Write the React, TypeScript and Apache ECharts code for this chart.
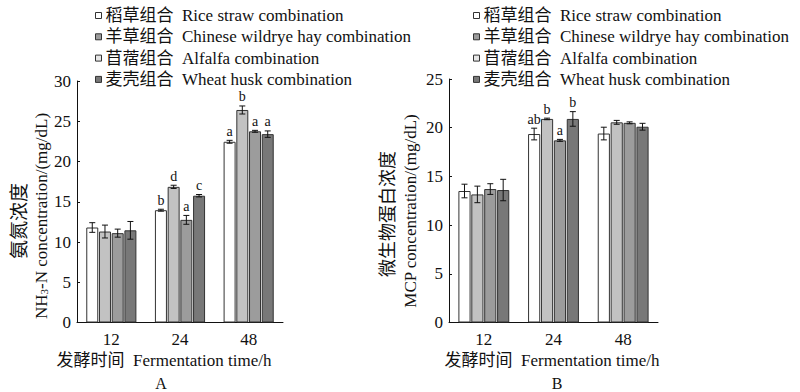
import React, { useEffect, useRef } from "react";
import * as echarts from "echarts";

const categories = ["12", "24", "48"];
const seriesNames = ["稻草组合", "羊草组合", "苜蓿组合", "麦壳组合"];
const seriesNamesEn = [
  "Rice straw combination",
  "Chinese wildrye hay combination",
  "Alfalfa combination",
  "Wheat husk combination",
];
const barColors = ["#ffffff", "#c2c2c2", "#9c9c9c", "#787878"];
const legendIconColors = ["#ffffff", "#9c9c9c", "#e6e6e6", "#787878"];

// Panel A: NH3-N concentration (mg/dL)
const nh3Rice = [11.8, 13.95, 22.45];
const nh3Wildrye = [11.3, 16.85, 26.4];
const nh3Alfalfa = [11.1, 12.75, 23.75];
const nh3Wheat = [11.45, 15.75, 23.4];
const nh3RiceErr = [0.6, 0.12, 0.18];
const nh3WildryeErr = [0.8, 0.2, 0.5];
const nh3AlfalfaErr = [0.5, 0.55, 0.12];
const nh3WheatErr = [1.1, 0.15, 0.4];
const nh3RiceSig = ["", "b", "a"];
const nh3WildryeSig = ["", "d", "b"];
const nh3AlfalfaSig = ["", "a", "a"];
const nh3WheatSig = ["", "c", "a"];

// Panel B: MCP concentration (mg/dL)
const mcpRice = [13.5, 19.35, 19.4];
const mcpWildrye = [13.15, 20.9, 20.55];
const mcpAlfalfa = [13.7, 18.7, 20.5];
const mcpWheat = [13.6, 20.9, 20.1];
const mcpRiceErr = [0.7, 0.6, 0.65];
const mcpWildryeErr = [0.85, 0.08, 0.2];
const mcpAlfalfaErr = [0.55, 0.1, 0.1];
const mcpWheatErr = [1.1, 0.75, 0.35];
const mcpRiceSig = ["", "ab", ""];
const mcpWildryeSig = ["", "b", ""];
const mcpAlfalfaSig = ["", "a", ""];
const mcpWheatSig = ["", "b", ""];

const yTicksA = { min: 0, max: 30, interval: 5 };
const yTicksB = { min: 0, max: 25, interval: 5 };

const FONT = "'Liberation Serif', 'Noto Sans CJK SC', serif";
const CAT_GAP = 0.27;
const BAR_GAP = 0.06;

export default function App() {
  const ref = useRef<HTMLDivElement>(null);

  useEffect(() => {
    if (!ref.current) return;
    const chart = echarts.init(ref.current, null, { renderer: "svg" });

    const panels = [
      {
        values: [nh3Rice, nh3Wildrye, nh3Alfalfa, nh3Wheat],
        errs: [nh3RiceErr, nh3WildryeErr, nh3AlfalfaErr, nh3WheatErr],
        sigs: [nh3RiceSig, nh3WildryeSig, nh3AlfalfaSig, nh3WheatSig],
      },
      {
        values: [mcpRice, mcpWildrye, mcpAlfalfa, mcpWheat],
        errs: [mcpRiceErr, mcpWildryeErr, mcpAlfalfaErr, mcpWheatErr],
        sigs: [mcpRiceSig, mcpWildryeSig, mcpAlfalfaSig, mcpWheatSig],
      },
    ];

    const series: any[] = [];
    panels.forEach((p, pi) => {
      p.values.forEach((vals, si) => {
        series.push({
          type: "bar",
          name: seriesNames[si],
          xAxisIndex: pi,
          yAxisIndex: pi,
          data: vals,
          barCategoryGap: CAT_GAP * 100 + "%",
          barGap: BAR_GAP * 100 + "%",
          itemStyle: { color: barColors[si], borderColor: "#333", borderWidth: 1 },
          emphasis: { disabled: true },
        });
      });
      p.values.forEach((vals, si) => {
        const errs = p.errs[si];
        const sigs = p.sigs[si];
        series.push({
          type: "custom",
          xAxisIndex: pi,
          yAxisIndex: pi,
          z: 5,
          data: vals.map((v, ci) => [ci, v, errs[ci]]),
          renderItem: (params: any, api: any) => {
            const ci = api.value(0);
            const v = api.value(1);
            const e = api.value(2);
            const band = api.size([1, 0])[0];
            const gw = band * (1 - CAT_GAP);
            const bw = gw / (4 + 3 * BAR_GAP);
            const off = -gw / 2 + si * bw * (1 + BAR_GAP) + bw / 2;
            const top = api.coord([ci, v + e]);
            const bot = api.coord([ci, v - e]);
            const x = top[0] + off;
            const cap = 3;
            const st = { stroke: "#111", lineWidth: 1 };
            const children: any[] = [
              { type: "line", shape: { x1: x, y1: top[1], x2: x, y2: bot[1] }, style: st },
              { type: "line", shape: { x1: x - cap, y1: top[1], x2: x + cap, y2: top[1] }, style: st },
              { type: "line", shape: { x1: x - cap, y1: bot[1], x2: x + cap, y2: bot[1] }, style: st },
            ];
            const s = sigs[params.dataIndex];
            if (s) {
              children.push({
                type: "text",
                x: x,
                y: top[1] - 2,
                style: {
                  text: s,
                  fontSize: 14,
                  fontFamily: FONT,
                  fill: "#111",
                  align: "center",
                  verticalAlign: "bottom",
                },
              });
            }
            return { type: "group", children };
          },
        });
      });
    });

    const legendCommon = (left: number) => ({
      orient: "vertical",
      left,
      top: 2,
      itemWidth: 6,
      itemHeight: 6,
      itemGap: 4.3,
      icon: "rect",
      selectedMode: false,
      textStyle: {
        fontFamily: FONT,
        fontSize: 17,
        color: "#111",
        lineHeight: 17,
        padding: [0, 0, 0, -1],
      },
      formatter: (name: string) => name + "  " + seriesNamesEn[seriesNames.indexOf(name)],
      data: seriesNames.map((n, i) => ({
        name: n,
        itemStyle: { color: legendIconColors[i], borderColor: "#333", borderWidth: 1 },
      })),
    });

    const xAxisCommon = (gi: number) => ({
      type: "category",
      gridIndex: gi,
      data: categories,
      axisLine: { lineStyle: { color: "#111", width: 1 } },
      axisTick: { inside: true, length: 4, lineStyle: { color: "#111" } },
      axisLabel: { fontFamily: FONT, fontSize: 17, color: "#111", margin: 8 },
    });
    const yAxisCommon = (gi: number, t: any) => ({
      type: "value",
      gridIndex: gi,
      min: t.min,
      max: t.max,
      interval: t.interval,
      axisLine: { show: true, lineStyle: { color: "#111", width: 1 } },
      axisTick: { show: true, inside: true, length: 3, lineStyle: { color: "#111" } },
      splitLine: { show: false },
      axisLabel: { fontFamily: FONT, fontSize: 17, color: "#111", margin: 6 },
    });

    const textEl = (text: string, x: number, y: number, extra: any = {}) => ({
      type: "text",
      x,
      y,
      rotation: extra.rotation || 0,
      style: {
        text,
        fontFamily: FONT,
        fontSize: extra.fontSize || 17,
        fill: "#111",
        align: "center",
        verticalAlign: "middle",
        rich: {
          sub: { fontSize: 11, fontFamily: FONT, fill: "#111", verticalAlign: "bottom", padding: [6, 0, 0, 0] },
        },
      },
    });

    chart.setOption({
      animation: false,
      backgroundColor: "#ffffff",
      grid: [
        { left: 77, top: 81, width: 206, height: 241.5 },
        { left: 449, top: 79, width: 209, height: 243.5 },
      ],
      legend: [legendCommon(90), legendCommon(468)],
      xAxis: [xAxisCommon(0), xAxisCommon(1)],
      yAxis: [yAxisCommon(0, yTicksA), yAxisCommon(1, yTicksB)],
      series,
      graphic: [
        textEl("氨氮浓度", 19, 221, { rotation: Math.PI / 2, fontSize: 19 }),
        textEl("NH{sub|3}-N concentration/(mg/dL)", 41, 216, { rotation: Math.PI / 2 }),
        textEl("微生物蛋白浓度", 388, 214, { rotation: Math.PI / 2, fontSize: 18 }),
        textEl("MCP concentration/(mg/dL)", 410, 211, { rotation: Math.PI / 2 }),
        textEl("发酵时间  Fermentation time/h", 164, 360),
        textEl("发酵时间  Fermentation time/h", 552, 360),
        textEl("A", 161, 383, { fontSize: 16 }),
        textEl("B", 557, 383, { fontSize: 16 }),
      ],
    });

    return () => chart.dispose();
  }, []);

  return <div ref={ref} style={{ width: 800, height: 392, position: "absolute", left: 0, top: 0 }} />;
}
